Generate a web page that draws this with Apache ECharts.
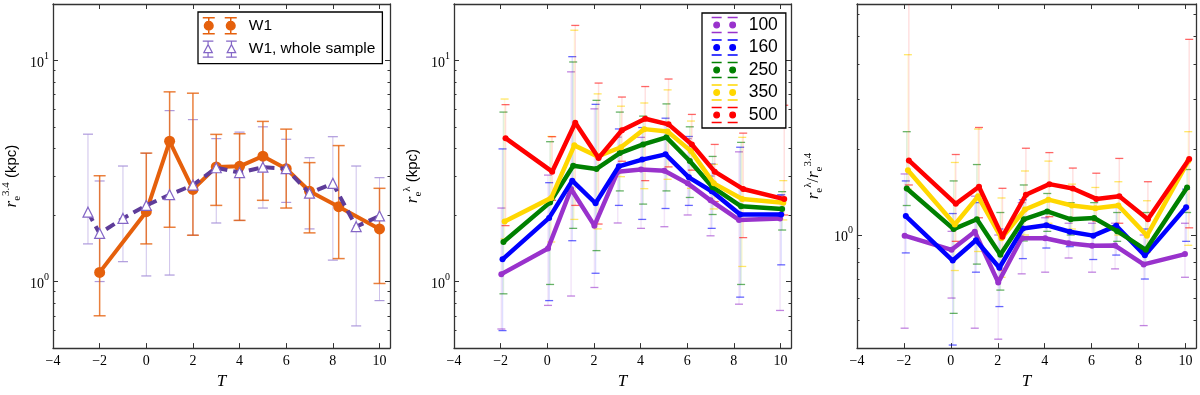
<!DOCTYPE html>
<html>
<head>
<meta charset="utf-8">
<script src="https://cdn.jsdelivr.net/npm/echarts@6.0.0/dist/echarts.min.js"></script>
<style>
html, body { margin: 0; padding: 0; background: #fff; }
#chart { width: 1200px; height: 395px; }
</style>
</head>
<body>
<div id="chart"></div>
<script>
// tick values
var xTicks = [-4, -2, 0, 2, 4, 6, 8, 10];
var sizeMajor = [1, 10];
var sizeMinor = [0.5, 0.6, 0.7, 0.8, 0.9, 2, 3, 4, 5, 6, 7, 8, 9];
var ratioMajor = [1];
var ratioMinor = [0.4, 0.5, 0.6, 0.7, 0.8, 0.9, 2, 3, 4, 5, 6];

// panel 1 : W1
var tW1 = [-2, 0, 1, 2, 3, 4, 5, 6, 7, 8.25, 10];
var reW1 = [1.10, 2.07, 4.31, 2.61, 3.30, 3.32, 3.69, 3.24, 2.56, 2.18, 1.73];
var reW1Lo = [0.70, 1.48, 1.76, 1.62, 2.21, 1.89, 2.33, 2.15, 1.66, 1.27, 0.98];
var reW1Hi = [3.01, 3.81, 7.21, 7.11, 4.63, 4.66, 5.30, 4.89, 3.45, 4.12, 2.64];

// panel 1 : W1, whole sample
var tAll = [-2.5, -2, -1, 0, 1, 2, 3, 4, 5, 6, 7, 8, 9, 10];
var reAll = [2.06, 1.65, 1.93, 2.21, 2.47, 2.73, 3.27, 3.11, 3.29, 3.24, 2.51, 2.78, 1.77, 1.98];
var reAllLo = [1.48, 1.00, 1.23, 1.06, 1.07, 1.62, 1.84, 1.89, 2.15, 2.28, 1.73, 1.25, 0.63, 0.82];
var reAllHi = [4.64, 2.85, 3.33, 3.80, 5.93, 5.40, 4.43, 4.74, 5.01, 4.40, 3.63, 4.52, 3.33, 2.95];

// panels 2 and 3 : wavelength bins
var bands = ['100', '160', '250', '350', '500'];
var bandColors = ['#9932CC', '#0000FF', '#008000', '#FFD700', '#FF0000'];
var x100 = [-1.97, 0.03, 1.02, 2.02, 3.02, 4.02, 5.02, 6.02, 7.00, 8.22, 9.98];
var x160 = [-1.92, 0.08, 1.07, 2.07, 3.07, 4.07, 5.07, 6.07, 7.05, 8.27, 10.03];
var x250 = [-1.88, 0.12, 1.11, 2.11, 3.11, 4.11, 5.11, 6.11, 7.09, 8.31, 10.07];
var x350 = [-1.83, 0.17, 1.16, 2.16, 3.16, 4.16, 5.16, 6.16, 7.14, 8.36, 10.12];
var x500 = [-1.79, 0.21, 1.20, 2.20, 3.20, 4.20, 5.20, 6.20, 7.18, 8.40, 10.16];

var re100 = [1.08, 1.41, 2.62, 1.79, 3.14, 3.21, 3.17, 2.78, 2.33, 1.90, 1.93];
var re160 = [1.26, 1.94, 2.86, 2.26, 3.32, 3.56, 3.76, 2.96, 2.56, 2.01, 2.01];
var re250 = [1.51, 2.28, 3.34, 3.23, 3.81, 4.17, 4.49, 3.51, 2.67, 2.19, 2.13];
var re350 = [1.87, 2.39, 4.13, 3.68, 4.05, 4.89, 4.77, 3.89, 2.78, 2.36, 2.27];
var re500 = [4.45, 3.14, 5.23, 3.62, 4.83, 5.45, 5.14, 4.17, 3.14, 2.62, 2.36];

var re100Lo = [0.61, 0.78, 0.86, 0.94, 1.84, 1.74, 1.77, 2.00, 1.61, 0.79, 0.74];
var re100Hi = [2.15, 3.03, 8.88, 6.04, 4.50, 4.49, 5.14, 4.43, 3.00, 3.86, 2.45];
var re160Lo = [0.60, 0.82, 1.53, 1.09, 2.21, 1.91, 2.14, 2.21, 1.74, 0.85, 1.19];
var re160Hi = [3.98, 2.80, 10.4, 6.33, 4.90, 4.97, 5.48, 4.53, 3.40, 4.05, 2.47];
var re250Lo = [0.88, 0.97, 1.74, 1.38, 2.57, 2.24, 2.57, 2.40, 2.01, 0.97, 1.71];
var re250Hi = [5.84, 4.29, 9.84, 6.60, 5.84, 5.60, 6.36, 5.01, 3.68, 4.26, 2.55];
var re350Lo = [1.56, 1.51, 1.91, 1.73, 2.98, 2.63, 2.90, 2.64, 2.13, 1.17, 1.90];
var re350Hi = [6.69, 4.53, 13.7, 7.06, 6.21, 6.42, 7.36, 5.32, 3.39, 4.49, 2.86];
var re500Lo = [1.79, 2.33, 2.21, 1.82, 3.50, 2.86, 3.30, 3.19, 2.30, 1.58, 2.00];
var re500Hi = [6.31, 4.52, 14.4, 7.90, 6.83, 7.62, 8.24, 5.70, 4.17, 4.69, 6.27];

var rt100 = [0.995, 0.887, 1.027, 0.681, 0.974, 0.974, 0.936, 0.916, 0.918, 0.788, 0.857];
var rt160 = [1.166, 0.813, 0.958, 0.767, 1.055, 1.083, 1.027, 0.995, 1.077, 0.848, 1.253];
var rt250 = [1.458, 1.049, 1.136, 0.853, 1.136, 1.210, 1.136, 1.148, 1.032, 0.887, 1.470];
var rt350 = [1.690, 1.089, 1.368, 0.974, 1.230, 1.332, 1.270, 1.243, 1.270, 0.995, 1.820];
var rt500 = [1.830, 1.287, 1.478, 0.987, 1.386, 1.510, 1.458, 1.340, 1.368, 1.136, 1.850];

var rt100Lo = [0.47, 0.60, 0.47, 0.43, 0.73, 0.74, 0.83, 0.74, 0.76, 0.48, 0.71];
var rt100Hi = [1.64, 1.03, 1.37, 1.00, 1.30, 1.15, 1.10, 1.10, 1.10, 1.00, 1.10];
var rt160Lo = [0.865, 0.41, 0.74, 0.56, 0.826, 0.90, 0.91, 0.82, 0.85, 0.70, 0.95];
var rt160Hi = [1.55, 1.19, 1.30, 1.05, 1.33, 1.20, 1.15, 1.15, 1.25, 1.05, 1.45];
var rt250Lo = [1.27, 0.53, 0.79, 0.64, 0.953, 1.03, 1.00, 1.00, 0.95, 0.80, 1.20];
var rt250Hi = [2.31, 1.55, 1.77, 1.20, 1.50, 1.40, 1.30, 1.30, 1.20, 1.20, 1.70];
var rt350Lo = [1.45, 0.75, 0.875, 0.71, 1.00, 1.10, 1.05, 1.00, 1.00, 0.87, 0.92];
var rt350Hi = [4.31, 1.80, 2.36, 1.35, 1.68, 1.82, 1.51, 1.47, 1.54, 1.32, 2.31];
var rt500Lo = [1.50, 0.95, 1.15, 0.75, 1.15, 1.16, 1.13, 1.12, 1.10, 0.90, 1.06];
var rt500Hi = [8.00, 1.92, 2.39, 1.46, 2.02, 1.95, 1.72, 1.65, 1.86, 1.54, 4.88];

var bandX = [x100, x160, x250, x350, x500];
var bandRe = [re100, re160, re250, re350, re500];
var bandReLo = [re100Lo, re160Lo, re250Lo, re350Lo, re500Lo];
var bandReHi = [re100Hi, re160Hi, re250Hi, re350Hi, re500Hi];
var bandRt = [rt100, rt160, rt250, rt350, rt500];
var bandRtLo = [rt100Lo, rt160Lo, rt250Lo, rt350Lo, rt500Lo];
var bandRtHi = [rt100Hi, rt160Hi, rt250Hi, rt350Hi, rt500Hi];

var serif = "'Liberation Serif', 'DejaVu Serif', serif";
var sans = "'Liberation Sans', 'DejaVu Sans', sans-serif";
var frame = '#333';

var chart = echarts.init(document.getElementById('chart'));

function pairs(xs, ys) {
	return xs.map(function(x, i) { return [x, ys[i]]; });
}

// vertical error bars with caps, drawn through the axes
function errBars(g, xs, lo, hi, color, o) {
	return {
		type: 'custom', xAxisIndex: 2 * g, yAxisIndex: 4 * g, clip: true, silent: true, z: 1,
		encode: { x: 0, y: [1, 2] },
		data: xs.map(function(x, i) { return [x, lo[i], hi[i]]; }),
		renderItem: function(params, api) {
			var x = api.value(0);
			var a = api.coord([x, api.value(1)]);
			var b = api.coord([x, api.value(2)]);
			var hw = o.cap / 2;
			return { type: 'group', children: [
				{ type: 'line', shape: { x1: a[0], y1: a[1], x2: b[0], y2: b[1] }, style: { stroke: color, lineWidth: o.lw, opacity: o.lineAlpha } },
				{ type: 'line', shape: { x1: a[0] - hw, y1: a[1], x2: a[0] + hw, y2: a[1] }, style: { stroke: color, lineWidth: o.capLw, opacity: o.capAlpha } },
				{ type: 'line', shape: { x1: b[0] - hw, y1: b[1], x2: b[0] + hw, y2: b[1] }, style: { stroke: color, lineWidth: o.capLw, opacity: o.capAlpha } }
			] };
		}
	};
}

function xAxes(g) {
	var common = {
		type: 'value', gridIndex: g, min: -4, max: 10.45,
		splitLine: { show: false },
		axisLine: { show: true, onZero: false, lineStyle: { color: frame, width: 1.3 } },
		axisTick: { show: true, inside: true, length: 5, customValues: xTicks, lineStyle: { color: frame } }
	};
	var bottom = echarts.util.merge({
		position: 'bottom',
		name: 'T', nameLocation: 'middle', nameGap: 24,
		nameTextStyle: { fontFamily: serif, fontStyle: 'italic', fontSize: 17, color: '#000' },
		axisLabel: { customValues: xTicks, margin: 6, fontFamily: serif, fontSize: 14, color: '#000',
			formatter: function(v) { return String(v).replace('-', '\u2212'); } }
	}, common, true);
	var top = echarts.util.merge({ position: 'top', axisLabel: { show: false } }, echarts.util.clone(common), true);
	return [bottom, top];
}

var supRich = {
	b: { fontFamily: serif, fontSize: 14, lineHeight: 19, verticalAlign: 'bottom', color: '#000' },
	s: { fontFamily: serif, fontSize: 10, lineHeight: 10, verticalAlign: 'top', color: '#000' }
};

var nameRich = {
	i: { fontFamily: serif, fontStyle: 'italic', fontSize: 17, lineHeight: 22, color: '#000' },
	n: { fontFamily: serif, fontSize: 16, lineHeight: 22, color: '#000' },
	sub: { fontFamily: serif, fontSize: 11, lineHeight: 10, verticalAlign: 'bottom', color: '#000' },
	sup: { fontFamily: serif, fontSize: 11, lineHeight: 9, verticalAlign: 'top', color: '#000' },
	t: { fontFamily: sans, fontSize: 15, lineHeight: 22, color: '#000' }
};

function yAxes(g, min, max, major, minor, name, gap) {
	function ax(pos, ticks, len, showLine, label) {
		var a = {
			type: 'log', logBase: 10, gridIndex: g, min: min, max: max, position: pos,
			splitLine: { show: false },
			axisLine: { show: showLine, onZero: false, lineStyle: { color: frame, width: 1.3 } },
			axisTick: { show: true, inside: true, length: len, customValues: ticks, lineStyle: { color: frame } },
			axisLabel: { show: false }
		};
		if (label) {
			a.axisLabel = { show: true, customValues: major, margin: 4, rich: supRich,
				formatter: function(v) { return '{b|10}{s|' + Math.round(Math.log10(v)) + '}'; } };
			a.name = name;
			a.nameLocation = 'middle';
			a.nameGap = gap;
			a.nameRotate = 90;
			a.nameTextStyle = { rich: nameRich };
		}
		return a;
	}
	return [
		ax('left', major, 5, true, true),
		ax('left', minor, 2.5, false, false),
		ax('right', major, 5, true, false),
		ax('right', minor, 2.5, false, false)
	];
}

var xAxis = [].concat(xAxes(0), xAxes(1), xAxes(2));
var yAxis = [].concat(
	yAxes(0, 0.5, 18, sizeMajor, sizeMinor, '{i|r}{sub|e}{sup|3.4}{t| (kpc)}', 30),
	yAxes(1, 0.5, 18, sizeMajor, sizeMinor, '{i|r}{sub|e}{sup|\u03bb}{t| (kpc)}', 30),
	yAxes(2, 0.4, 6.5, ratioMajor, ratioMinor, '{i|r}{sub|e}{sup|\u03bb}{n|/}{i|r}{sub|e}{sup|3.4}', 32)
);

var orange = '#E5600C';
var deepPurple = '#5E3C99';
var lightPurple = '#8466C6';

var series = [
	errBars(0, tAll, reAllLo, reAllHi, '#A58FD8', { cap: 10, lw: 1, capLw: 1.2, lineAlpha: 0.55, capAlpha: 0.9 }),
	errBars(0, tW1, reW1Lo, reW1Hi, orange, { cap: 12, lw: 1.5, capLw: 1.5, lineAlpha: 0.8, capAlpha: 0.8 }),
	{
		name: 'W1', type: 'line', xAxisIndex: 0, yAxisIndex: 0, z: 3,
		data: pairs(tW1, reW1), symbol: 'circle', symbolSize: 11,
		itemStyle: { color: orange }, lineStyle: { color: orange, width: 4 }
	},
	{
		name: 'W1, whole sample', type: 'line', xAxisIndex: 0, yAxisIndex: 0, z: 4,
		data: pairs(tAll, reAll), symbol: 'triangle', symbolSize: 10,
		itemStyle: { color: '#fff', borderColor: lightPurple, borderWidth: 1.2 },
		lineStyle: { color: deepPurple, width: 4, type: [10, 6] }
	}
];

bands.forEach(function(b, k) {
	series.push(errBars(1, bandX[k], bandReLo[k], bandReHi[k], bandColors[k], { cap: 8, lw: 1.5, capLw: 1.3, lineAlpha: 0.12, capAlpha: 0.6 }));
	series.push(errBars(2, bandX[k], bandRtLo[k], bandRtHi[k], bandColors[k], { cap: 8, lw: 1.5, capLw: 1.3, lineAlpha: 0.12, capAlpha: 0.6 }));
});
bands.forEach(function(b, k) {
	series.push({
		name: b, type: 'line', xAxisIndex: 2, yAxisIndex: 4, z: 3 + k,
		data: pairs(bandX[k], bandRe[k]), symbol: 'circle', symbolSize: 6,
		itemStyle: { color: bandColors[k] }, lineStyle: { color: bandColors[k], width: 4.5 }
	});
	series.push({
		name: 'ratio ' + b, type: 'line', xAxisIndex: 4, yAxisIndex: 8, z: 3 + k,
		data: pairs(bandX[k], bandRt[k]), symbol: 'circle', symbolSize: 6,
		itemStyle: { color: bandColors[k] }, lineStyle: { color: bandColors[k], width: 4.5 }
	});
});

var iconW1 = 'path://M1.7,8a4.3,4.3 0 1,0 8.6,0a4.3,4.3 0 1,0 -8.6,0M6,0L6,16M0,0L12,0M0,16L12,16' +
	'M23.7,8a4.3,4.3 0 1,0 8.6,0a4.3,4.3 0 1,0 -8.6,0M28,0L28,16M22,0L34,0M22,16L34,16';
var iconAll = 'path://M6,3.5L10,11.5L2,11.5ZM6,0L6,3.5M6,11.5L6,16M1,0L11,0M1,16L11,16' +
	'M28,3.5L32,11.5L24,11.5ZM28,0L28,3.5M28,11.5L28,16M23,0L33,0M23,16L33,16';
var iconBand = 'path://M4.2,8a2.8,2.8 0 1,0 5.6,0a2.8,2.8 0 1,0 -5.6,0M2,0.5L12,0.5M2,15.5L12,15.5' +
	'M20.2,8a2.8,2.8 0 1,0 5.6,0a2.8,2.8 0 1,0 -5.6,0M18,0.5L28,0.5M18,15.5L28,15.5M0,0M30,16';

var legendBase = {
	orient: 'vertical', selectedMode: false, itemHeight: 16, symbolKeepAspect: false,
	borderColor: '#000', borderWidth: 1.3, borderRadius: 0, backgroundColor: '#fff', z: 20
};

var option = {
	animation: false,
	backgroundColor: '#fff',
	grid: [
		{ left: 52, right: 810, top: 4, bottom: 41 },
		{ left: 454, right: 409, top: 4, bottom: 41 },
		{ left: 857, right: 4, top: 4, bottom: 41 }
	],
	xAxis: xAxis,
	yAxis: yAxis,
	legend: [
		echarts.util.merge({
			left: 198, top: 12, padding: [5, 7, 6, 4], itemGap: 6, itemWidth: 34,
			textStyle: { fontFamily: sans, fontSize: 15.5, lineHeight: 16, color: '#000', padding: [0, 0, 0, 7] },
			data: [
				{ name: 'W1', icon: iconW1, itemStyle: { color: orange, borderColor: orange, borderWidth: 1.5 } },
				{ name: 'W1, whole sample', icon: iconAll, itemStyle: { color: '#fff', borderColor: lightPurple, borderWidth: 1.2 } }
			]
		}, legendBase),
		echarts.util.merge({
			left: 702, top: 13, padding: [3, 8, 4, 7], itemGap: 4.5, itemWidth: 30,
			textStyle: { fontFamily: sans, fontSize: 17.5, lineHeight: 16, color: '#000', padding: [0, 0, 0, 4] },
			data: bands.map(function(b, k) {
				return { name: b, icon: iconBand, itemStyle: { color: bandColors[k], borderColor: bandColors[k], borderWidth: 1.3 } };
			})
		}, legendBase)
	],
	series: series
};

chart.setOption(option);
</script>
</body>
</html>
